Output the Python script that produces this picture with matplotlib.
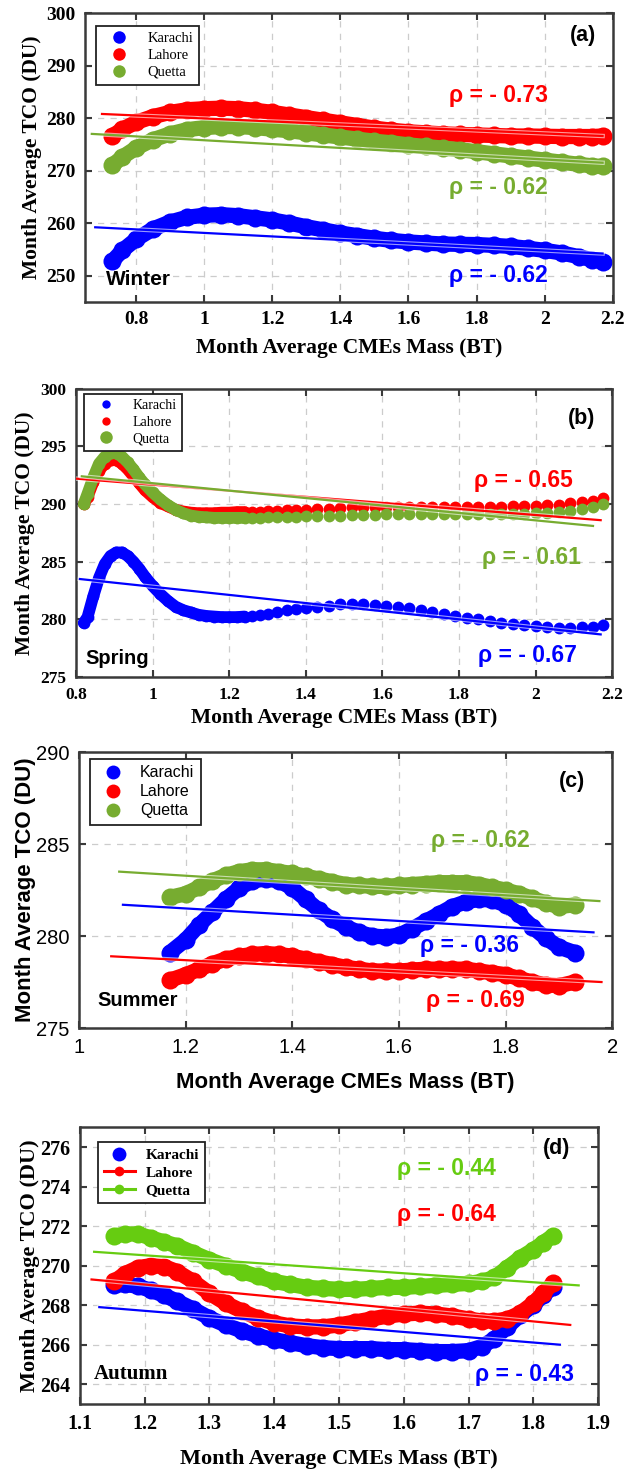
import matplotlib
matplotlib.use("Agg")
import matplotlib.pyplot as plt
from matplotlib.lines import Line2D
import matplotlib.patheffects as pe

SERIF = "Liberation Serif"
SANS = "Liberation Sans"

cities = ["Karachi", "Lahore", "Quetta"]
rho_labels = {
    "a": ["ρ = - 0.62", "ρ = - 0.73", "ρ = - 0.62"],
    "b": ["ρ = - 0.67", "ρ = - 0.65", "ρ = - 0.61"],
    "c": ["ρ = - 0.36", "ρ = - 0.69", "ρ = - 0.62"],
    "d": ["ρ = - 0.43", "ρ = - 0.64", "ρ = - 0.44"],
}

# ---- (a) Winter ----
x_a = [0.73, 0.76, 0.80, 0.85, 0.90, 0.95, 1.00, 1.05, 1.10, 1.15, 1.20, 1.25, 1.30, 1.35,
       1.40, 1.45, 1.50, 1.55, 1.60, 1.65, 1.70, 1.75, 1.80, 1.85, 1.90, 1.95, 2.00, 2.05,
       2.10, 2.14, 2.17]
karachi_a = [252.7, 254.8, 256.9, 258.9, 260.2, 261.1, 261.5, 261.6, 261.4, 261.0, 260.6,
             260.0, 259.3, 258.7, 258.1, 257.6, 257.1, 256.7, 256.4, 256.2, 256.0, 255.95,
             255.9, 255.75, 255.55, 255.2, 254.8, 254.3, 253.6, 253.0, 252.6]
lahore_a = [276.6, 277.9, 279.2, 280.3, 281.1, 281.6, 281.8, 281.9, 281.8, 281.5, 281.1,
            280.6, 280.1, 279.6, 279.1, 278.6, 278.1, 277.7, 277.4, 277.2, 277.0, 276.9,
            276.8, 276.7, 276.6, 276.6, 276.55, 276.5, 276.5, 276.5, 276.6]
quetta_a = [271.0, 272.6, 274.3, 275.9, 277.0, 277.8, 278.2, 278.4, 278.4, 278.2, 277.9,
            277.6, 277.2, 276.8, 276.4, 276.0, 275.6, 275.3, 274.9, 274.6, 274.3, 274.0,
            273.6, 273.2, 272.8, 272.4, 272.0, 271.6, 271.2, 270.9, 270.8]
fit_x_a = [[0.68, 2.17], [0.70, 2.17], [0.67, 2.17]]
fit_y_a = [[259.2, 254.2], [280.8, 276.6], [277.0, 271.5]]

# ---- (b) Spring ----
x_b = [0.82, 0.83, 0.845, 0.86, 0.875, 0.89, 0.905, 0.92, 0.935, 0.95, 0.965, 0.98, 1.00,
       1.02, 1.04, 1.06, 1.08, 1.10, 1.12, 1.14, 1.16, 1.18, 1.20, 1.22, 1.24, 1.26, 1.28,
       1.30, 1.325, 1.35, 1.375, 1.40, 1.43, 1.46, 1.49, 1.52, 1.55, 1.58, 1.61, 1.64,
       1.67, 1.70, 1.73, 1.76, 1.79, 1.82, 1.85, 1.88, 1.91, 1.94, 1.97, 2.00, 2.03, 2.06,
       2.09, 2.12, 2.15, 2.175]
karachi_b = [279.7, 280.2, 282.0, 283.6, 284.8, 285.5, 285.8, 285.8, 285.5, 285.0, 284.4,
             283.7, 282.9, 282.2, 281.6, 281.1, 280.8, 280.6, 280.4, 280.3, 280.25, 280.2,
             280.2, 280.2, 280.25, 280.3, 280.4, 280.5, 280.65, 280.8, 280.9, 281.0,
             281.1, 281.2, 281.3, 281.35, 281.3, 281.25, 281.15, 281.05, 280.95, 280.8,
             280.65, 280.5, 280.3, 280.15, 280.0, 279.85, 279.7, 279.6, 279.5, 279.4,
             279.3, 279.25, 279.25, 279.3, 279.35, 279.5]
lahore_b = [290.0, 290.6, 291.9, 292.9, 293.5, 293.8, 293.8, 293.5, 293.0, 292.4, 291.8,
            291.2, 290.6, 290.1, 289.8, 289.5, 289.35, 289.25, 289.2, 289.2, 289.2, 289.25,
            289.25, 289.3, 289.3, 289.35, 289.35, 289.4, 289.4, 289.45, 289.45, 289.5,
            289.55, 289.6, 289.65, 289.7, 289.7, 289.75, 289.75, 289.75, 289.75, 289.75,
            289.75, 289.75, 289.75, 289.75, 289.75, 289.75, 289.75, 289.8, 289.8, 289.85,
            289.9, 289.95, 290.05, 290.15, 290.3, 290.5]
quetta_b = [290.0, 290.9, 292.3, 293.5, 294.1, 294.4, 294.4, 294.1, 293.6, 293.0, 292.3,
            291.7, 291.0, 290.4, 289.9, 289.5, 289.2, 289.0, 288.9, 288.85, 288.8, 288.8,
            288.8, 288.8, 288.8, 288.8, 288.8, 288.85, 288.85, 288.9, 288.9, 288.95,
            288.95, 289.0, 289.0, 289.05, 289.05, 289.05, 289.1, 289.1, 289.1, 289.1,
            289.1, 289.1, 289.1, 289.1, 289.1, 289.1, 289.1, 289.15, 289.15, 289.2, 289.25,
            289.3, 289.4, 289.55, 289.75, 290.0]
fit_x_b = [[0.81, 2.17], [0.80, 2.17], [0.815, 2.15]]
fit_y_b = [[283.5, 278.7], [292.2, 288.6], [292.4, 288.1]]

# ---- (c) Summer ----
x_c = [1.17, 1.20, 1.225, 1.25, 1.275, 1.30, 1.325, 1.35, 1.375, 1.40, 1.425, 1.45, 1.475,
       1.50, 1.525, 1.55, 1.575, 1.60, 1.625, 1.65, 1.675, 1.70, 1.725, 1.75, 1.775, 1.80,
       1.825, 1.85, 1.875, 1.90, 1.93]
karachi_c = [279.1, 279.8, 280.6, 281.3, 282.0, 282.6, 283.0, 283.1, 283.0, 282.6, 282.0,
             281.4, 280.9, 280.5, 280.2, 280.0, 279.95, 280.05, 280.4, 280.8, 281.2, 281.6,
             281.85, 282.0, 281.95, 281.7, 281.2, 280.5, 279.9, 279.4, 279.1]
lahore_c = [277.6, 277.9, 278.2, 278.5, 278.75, 278.9, 279.0, 279.05, 279.0, 278.9, 278.75,
            278.6, 278.45, 278.3, 278.2, 278.1, 278.1, 278.1, 278.15, 278.2, 278.2, 278.2,
            278.2, 278.1, 278.0, 277.9, 277.7, 277.5, 277.35, 277.3, 277.5]
quetta_c = [282.1, 282.3, 282.65, 283.0, 283.3, 283.5, 283.6, 283.6, 283.5, 283.4, 283.25,
            283.1, 282.95, 282.8, 282.75, 282.7, 282.7, 282.75, 282.8, 282.85, 282.9, 282.9,
            282.9, 282.8, 282.65, 282.5, 282.3, 282.05, 281.8, 281.6, 281.7]
fit_x_c = [[1.082, 1.965], [1.06, 1.98], [1.075, 1.976]]
fit_y_c = [[281.7, 280.2], [278.9, 277.5], [283.5, 281.9]]

# ---- (d) Autumn ----
x_d = [1.153, 1.17, 1.19, 1.21, 1.23, 1.25, 1.275, 1.30, 1.325, 1.35, 1.375, 1.40, 1.425,
       1.45, 1.475, 1.50, 1.525, 1.55, 1.575, 1.60, 1.625, 1.65, 1.675, 1.70, 1.72, 1.74,
       1.76, 1.78, 1.80, 1.815, 1.83]
karachi_d = [269.0, 269.05, 268.95, 268.75, 268.5, 268.2, 267.8, 267.35, 267.0, 266.7,
             266.45, 266.25, 266.1, 265.95, 265.85, 265.8, 265.8, 265.8, 265.75, 265.75,
             265.7, 265.65, 265.65, 265.7, 265.9, 266.3, 266.9, 267.5, 268.0, 268.5, 268.9]
lahore_d = [269.2, 269.6, 269.9, 270.0, 269.95, 269.7, 269.2, 268.6, 268.1, 267.7, 267.35,
            267.1, 266.95, 266.9, 266.9, 267.0, 267.15, 267.3, 267.45, 267.55, 267.6,
            267.55, 267.45, 267.3, 267.2, 267.2, 267.3, 267.6, 268.1, 268.6, 269.1]
quetta_d = [271.5, 271.6, 271.6, 271.4, 271.2, 271.0, 270.65, 270.3, 270.0, 269.7, 269.45,
            269.2, 269.05, 268.9, 268.85, 268.8, 268.8, 268.85, 268.9, 268.9, 268.95, 269.0,
            269.05, 269.1, 269.2, 269.4, 269.9, 270.4, 270.8, 271.15, 271.5]
fit_x_d = [[1.13, 1.841], [1.118, 1.857], [1.122, 1.87]]
fit_y_d = [[267.9, 266.0], [269.3, 267.0], [270.7, 269.0]]

BLUE, RED = "#0000ff", "#ff0000"
GREEN = "#77ac30"
GREEN_D = "#66cc11"

panels = [
    dict(tag="a", x=x_a, ys=[karachi_a, lahore_a, quetta_a], fx=fit_x_a, fy=fit_y_a,
         colors=[BLUE, RED, GREEN], rect=[0.133, 0.795, 0.826, 0.196],
         xlim=(0.65, 2.2), ylim=(245, 300), xticks=[0.8, 1, 1.2, 1.4, 1.6, 1.8, 2, 2.2],
         yticks=[250, 260, 270, 280, 290, 300], ms=13, lw=11, band_pts=None,
         font=SERIF, tick_fs=14, lab_fs=15.5, tick_w="bold", season="Winter",
         season_font=SANS, season_fs=15, season_xy=(0.712, 249.3), tag_xy=(2.075, 295.8),
         rho_xy=[(1.72, 250.1), (1.72, 284.3), (1.72, 266.7)],
         ylab_x=-0.100, xlab_y=-0.159, leg_xy=(0.021, 0.955)),
    dict(tag="b", x=x_b, ys=[karachi_b, lahore_b, quetta_b], fx=fit_x_b, fy=fit_y_b,
         colors=[BLUE, RED, GREEN], rect=[0.119, 0.540, 0.839, 0.196],
         xlim=(0.8, 2.2), ylim=(275, 300), xticks=[0.8, 1, 1.2, 1.4, 1.6, 1.8, 2, 2.2],
         yticks=[275, 280, 285, 290, 295, 300], ms=8.5, lw=8.5, band_pts=25,
         font=SERIF, tick_fs=12.5, lab_fs=15.5, tick_w="bold", season="Spring",
         season_font=SANS, season_fs=14.5, season_xy=(0.825, 276.6), tag_xy=(2.085, 297.4),
         rho_xy=[(1.85, 276.9), (1.84, 292.0), (1.86, 285.4)],
         ylab_x=-0.096, xlab_y=-0.142, leg_xy=(0.015, 0.983)),
    dict(tag="c", x=x_c, ys=[karachi_c, lahore_c, quetta_c], fx=fit_x_c, fy=fit_y_c,
         colors=[BLUE, RED, GREEN], rect=[0.124, 0.3016, 0.834, 0.1875],
         xlim=(1, 2), ylim=(275, 290), xticks=[1, 1.2, 1.4, 1.6, 1.8, 2],
         yticks=[275, 280, 285, 290], ms=13, lw=11, band_pts=None, font=SANS,
         tick_fs=14.5, lab_fs=16, tick_w="normal", season="Summer", season_font=SANS,
         season_fs=14.5, season_xy=(1.035, 276.5), tag_xy=(1.9, 288.4),
         rho_xy=[(1.64, 279.5), (1.65, 276.5), (1.66, 285.2)],
         ylab_x=-0.101, xlab_y=-0.199, leg_xy=(0.021, 0.975)),
    dict(tag="d", x=x_d, ys=[karachi_d, lahore_d, quetta_d], fx=fit_x_d, fy=fit_y_d,
         colors=[BLUE, RED, GREEN_D], rect=[0.125, 0.0462, 0.811, 0.188],
         xlim=(1.1, 1.9), ylim=(263, 277),
         xticks=[1.1, 1.2, 1.3, 1.4, 1.5, 1.6, 1.7, 1.8, 1.9],
         yticks=[264, 266, 268, 270, 272, 274, 276], ms=13, lw=11, band_pts=None,
         font=SERIF, tick_fs=14.5, lab_fs=16, tick_w="bold", season="Autumn",
         season_font=SERIF, season_fs=15, season_xy=(1.122, 264.5), tag_xy=(1.815, 275.95),
         rho_xy=[(1.71, 264.5), (1.59, 272.6), (1.59, 274.9)],
         ylab_x=-0.097, xlab_y=-0.199, leg_xy=(0.035, 0.945)),
]

fig = plt.figure(figsize=(6.39, 14.72), dpi=100)
fit_fx = [pe.Stroke(linewidth=3.2, foreground="white", alpha=0.6), pe.Normal()]

for p in panels:
    ax = fig.add_axes(p["rect"])
    for y, c in zip(p["ys"], p["colors"]):
        # continuous band where the samples are dense
        n = p["band_pts"] if p["band_pts"] else len(p["x"])
        ax.plot(p["x"][:n], y[:n], "-", color=c, lw=p["lw"], solid_capstyle="round",
                zorder=2)
        ax.plot(p["x"], y, "o", color=c, ms=p["ms"], mew=0, zorder=2)
    for fx, fy, c in zip(p["fx"], p["fy"], p["colors"]):
        ax.plot(fx, fy, "-", color=c, lw=1.6, zorder=3, path_effects=fit_fx)

    ax.set_xlim(*p["xlim"])
    ax.set_ylim(*p["ylim"])
    ax.set_xticks(p["xticks"])
    ax.set_yticks(p["yticks"])
    ax.set_xticklabels([f"{t:g}" for t in p["xticks"]])
    ax.grid(True, color="#cccccc", ls=(0, (5, 5)), lw=0.9)
    ax.set_axisbelow(True)
    for s in ax.spines.values():
        s.set_linewidth(1.8)
        s.set_color("#3a3a3a")
    ax.tick_params(direction="in", length=5, width=1.5, color="#3a3a3a",
                   top=True, right=True, pad=7)
    for lbl in ax.get_xticklabels() + ax.get_yticklabels():
        lbl.set_fontfamily(p["font"])
        lbl.set_fontsize(p["tick_fs"])
        lbl.set_fontweight(p["tick_w"])

    ax.set_xlabel("Month Average CMEs Mass (BT)", fontfamily=p["font"],
                  fontsize=p["lab_fs"], fontweight="bold", va="center")
    ax.set_ylabel("Month Average TCO (DU)", fontfamily=p["font"],
                  fontsize=p["lab_fs"], fontweight="bold", va="center")
    ax.xaxis.set_label_coords(0.5, p["xlab_y"])
    ax.yaxis.set_label_coords(p["ylab_x"], 0.5)

    for txt, (tx, ty), c in zip(rho_labels[p["tag"]], p["rho_xy"], p["colors"]):
        ax.text(tx, ty, txt, color=c, fontfamily=SANS, fontsize=16.5, fontweight="bold",
                ha="left", va="center")
    ax.text(*p["tag_xy"], f"({p['tag']})", fontfamily=SANS, fontsize=15.5,
            fontweight="bold", ha="left", va="center")
    ax.text(*p["season_xy"], p["season"], fontfamily=p["season_font"],
            fontsize=p["season_fs"], fontweight="bold", ha="left", va="center")

    # legend
    if p["tag"] == "a":
        handles = [Line2D([], [], ls="none", marker="o", ms=9, mew=0, color=c)
                   for c in p["colors"]]
        prop = dict(family=SERIF, size=10.5)
        hl = 2.4
    elif p["tag"] == "b":
        handles = [Line2D([], [], ls="none", marker="o", ms=m, mew=0, color=c)
                   for c, m in zip(p["colors"], [6, 6, 9])]
        prop = dict(family=SERIF, size=10)
        hl = 2.4
    elif p["tag"] == "c":
        handles = [Line2D([], [], ls="none", marker="o", ms=10, mew=0, color=c)
                   for c in p["colors"]]
        prop = dict(family=SANS, size=11.5)
        hl = 2.0
    else:
        handles = [Line2D([], [], ls="none", marker="o", ms=10, mew=0, color=BLUE),
                   Line2D([], [], ls="-", lw=2.2, marker="o", ms=7, mew=0, color=RED),
                   Line2D([], [], ls="-", lw=2.2, marker="o", ms=7, mew=0, color=GREEN_D)]
        prop = dict(family=SERIF, size=11, weight="bold")
        hl = 2.0
    leg = ax.legend(handles, cities, loc="upper left", bbox_to_anchor=p["leg_xy"],
                    borderaxespad=0, fancybox=False, framealpha=1, edgecolor="#222222",
                    prop=prop, handlelength=hl, handletextpad=0.7, borderpad=0.4,
                    labelspacing=0.25)
    leg.get_frame().set_linewidth(1.3)

fig.savefig("out.png", dpi=100)
